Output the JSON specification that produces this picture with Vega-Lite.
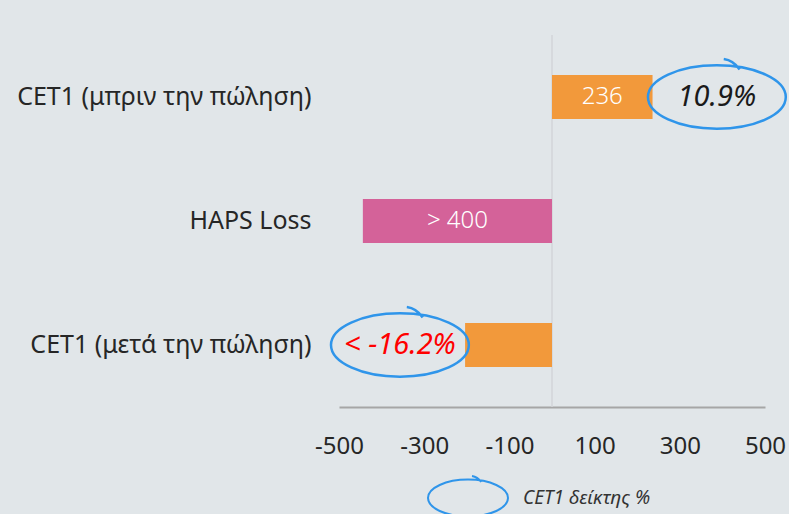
{
  "$schema": "https://vega.github.io/schema/vega-lite/v6.json",
  "width": 426,
  "height": 372,
  "autosize": {"type": "none"},
  "padding": {"left": 339, "top": 35, "right": 24, "bottom": 107},
  "background": "#e1e6e9",
  "config": {
    "view": {"stroke": null},
    "font": "Noto Sans"
  },
  "data": {
    "values": [
      {"label": "CET1 (μπριν την πώληση)", "value": 236, "text": "236", "kind": "CET1", "ratio": "10.9%", "ratioPos": 387, "series": "CET1 δείκτης %"},
      {"label": "HAPS Loss", "value": -444, "text": "> 400", "kind": "HAPS", "ratio": null, "ratioPos": null, "series": null},
      {"label": "CET1 (μετά την πώληση)", "value": -204, "text": "", "kind": "CET1", "ratio": "< -16.2%", "ratioPos": -357, "series": "CET1 δείκτης %"}
    ]
  },
  "encoding": {
    "y": {
      "field": "label",
      "type": "nominal",
      "sort": null,
      "scale": {"domain": ["CET1 (μπριν την πώληση)", "HAPS Loss", "CET1 (μετά την πώληση)"], "paddingInner": 0.645, "paddingOuter": 0.3225},
      "axis": {"title": null, "ticks": false, "domain": false, "labelFontSize": 25, "labelColor": "#262626", "labelPadding": 28, "labelLimit": 400}
    }
  },
  "layer": [
    {
      "mark": {"type": "rule", "color": "#d2d5d8", "strokeWidth": 1.5},
      "data": {"values": [{"zero": 0}]},
      "encoding": {
        "x": {"field": "zero", "type": "quantitative", "scale": {"domain": [-500, 500], "nice": false, "zero": false}},
        "y": null
      }
    },
    {
      "mark": {"type": "bar"},
      "encoding": {
        "x": {
          "field": "value",
          "type": "quantitative",
          "scale": {"domain": [-500, 500], "nice": false, "zero": false},
          "axis": {"title": null, "values": [-500, -300, -100, 100, 300, 500], "labelExpr": "toString(datum.value)", "labelFlush": false, "labelOverlap": false, "ticks": false, "grid": false, "domainColor": "#a6a6a6", "domainWidth": 2, "labelFontSize": 24, "labelColor": "#262626", "labelPadding": 27}
        },
        "x2": {"datum": 0},
        "color": {"field": "kind", "type": "nominal", "scale": {"domain": ["CET1", "HAPS"], "range": ["#f2993b", "#d46299"]}, "legend": null}
      }
    },
    {
      "transform": [{"calculate": "datum.value / 2", "as": "mid"}],
      "mark": {"type": "text", "color": "#ffffff", "fontSize": 24, "fontWeight": 300, "align": "center", "baseline": "middle"},
      "encoding": {
        "x": {"field": "mid", "type": "quantitative"},
        "text": {"field": "text"}
      }
    },
    {
      "transform": [{"filter": "datum.ratio != null"}],
      "mark": {"type": "point", "filled": false, "strokeWidth": 2.5, "opacity": 1, "size": 19000,
        "shape": "M -1 0 A 1 0.46 0 1 1 1 0 A 1 0.46 0 1 1 -1 0 M 0.1 -0.55 Q 0.24 -0.53 0.33 -0.4"},
      "encoding": {
        "x": {"field": "ratioPos", "type": "quantitative"},
        "stroke": {
          "field": "series", "type": "nominal",
          "scale": {"range": ["#2f95ea"]},
          "legend": {"title": null, "orient": "none", "legendX": 88, "legendY": 422, "padding": 0,
            "symbolType": "M -1 0 A 1 0.46 0 1 1 1 0 A 1 0.46 0 1 1 -1 0 M 0.1 -0.55 Q 0.24 -0.53 0.33 -0.4",
            "symbolSize": 6400, "symbolStrokeWidth": 2, "symbolFillColor": "transparent", "symbolStrokeColor": "#2f95ea",
            "labelFontSize": 19, "labelFontStyle": "italic", "labelColor": "#333333", "labelOffset": 14}
        }
      }
    },
    {
      "transform": [{"filter": "datum.ratio != null"}],
      "mark": {"type": "text", "fontSize": 29, "fontStyle": "italic", "align": "center", "baseline": "middle"},
      "encoding": {
        "x": {"field": "ratioPos", "type": "quantitative"},
        "text": {"field": "ratio"},
        "color": {"condition": {"test": "datum.value < 0", "value": "#ff0000"}, "value": "#1a1a1a"}
      }
    }
  ]
}
